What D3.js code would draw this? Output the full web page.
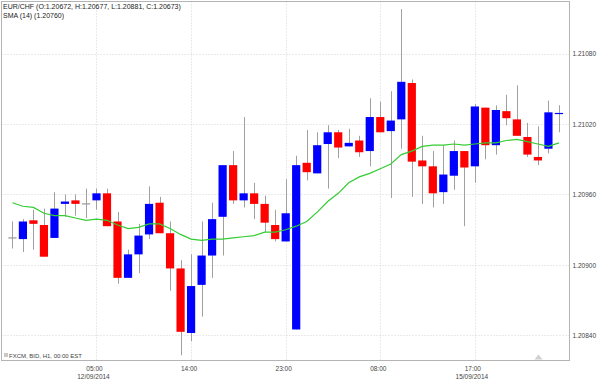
<!DOCTYPE html>
<html>
<head>
<meta charset="utf-8">
<script src="https://cdn.jsdelivr.net/npm/d3@7"></script>
<style>
  body { margin: 0; background: #fff; }
  svg { display: block; font-family: "Liberation Sans", Arial, sans-serif; }
</style>
</head>
<body>
<svg width="600" height="380"></svg>
<script>
// hourly bars, EUR/CHF
const times = [
  "21:00", "22:00", "23:00",
  "00:00", "01:00", "02:00", "03:00", "04:00", "05:00", "06:00", "07:00",
  "08:00", "09:00", "10:00", "11:00", "12:00", "13:00", "14:00", "15:00",
  "16:00", "17:00", "18:00", "19:00", "20:00", "21:00", "22:00", "23:00",
  "00:00", "01:00", "02:00", "03:00", "04:00", "05:00", "06:00", "07:00",
  "08:00", "09:00", "10:00", "11:00", "12:00", "13:00", "14:00", "15:00",
  "16:00", "17:00", "18:00", "19:00", "20:00", "21:00", "22:00", "23:00",
  "00:00", "01:00"
];

const open = [
  1.20923, 1.20922, 1.20938, 1.20934, 1.20923, 1.20952, 1.20955, 1.20952, 1.20955, 1.20961,
  1.20937, 1.20889, 1.20909, 1.20926, 1.20953, 1.20927, 1.20897, 1.20842, 1.20883, 1.20908,
  1.20941, 1.20985, 1.20955, 1.20961, 1.20952, 1.20934, 1.20920, 1.20845, 1.20987, 1.20978,
  1.21003, 1.21013, 1.21001, 1.21006, 1.20997, 1.21026, 1.21014, 1.21024, 1.21055, 1.20989,
  1.20984, 1.20962, 1.20976, 1.20997, 1.20984, 1.21034, 1.21002, 1.21031, 1.21024, 1.21009,
  1.20992, 1.20999, 1.21028
];
const high = [
  1.20937, 1.20939, 1.20947, 1.20948, 1.20962, 1.20960, 1.20960, 1.20965, 1.20965, 1.20965,
  1.20945, 1.20913, 1.20935, 1.20967, 1.20958, 1.20937, 1.20904, 1.20909, 1.20937, 1.20953,
  1.20985, 1.20997, 1.21026, 1.20970, 1.20959, 1.20947, 1.20973, 1.20993, 1.21015, 1.21013,
  1.21019, 1.21015, 1.21016, 1.21010, 1.21042, 1.21039, 1.21048, 1.21118, 1.21058, 1.21010,
  1.20997, 1.21002, 1.21006, 1.20997, 1.21037, 1.21034, 1.21036, 1.21045, 1.21053, 1.21021,
  1.21018, 1.21040, 1.21036
];
const low = [
  1.20914, 1.20911, 1.20913, 1.20907, 1.20923, 1.20941, 1.20942, 1.20940, 1.20947, 1.20933,
  1.20884, 1.20889, 1.20893, 1.20922, 1.20927, 1.20878, 1.20823, 1.20835, 1.20856, 1.20889,
  1.20908, 1.20952, 1.20949, 1.20939, 1.20928, 1.20920, 1.20920, 1.20845, 1.20972, 1.20978,
  1.20965, 1.20991, 1.21001, 1.20992, 1.20984, 1.21013, 1.20957, 1.20999, 1.20958, 1.20952,
  1.20949, 1.20952, 1.20964, 1.20933, 1.20970, 1.20990, 1.20994, 1.21019, 1.21010, 1.20992,
  1.20985, 1.20995, 1.21013
];
const close = [
  1.20923, 1.20937, 1.20935, 1.20907, 1.20948, 1.20954, 1.20952, 1.20952, 1.20961, 1.20933,
  1.20889, 1.20909, 1.20925, 1.20952, 1.20927, 1.20897, 1.20843, 1.20882, 1.20908, 1.20939,
  1.20985, 1.20955, 1.20961, 1.20952, 1.20936, 1.20922, 1.20944, 1.20985, 1.20979, 1.21002,
  1.21013, 1.21000, 1.21004, 1.20996, 1.21026, 1.21013, 1.21023, 1.21056, 1.20988, 1.20984,
  1.20961, 1.20977, 1.20997, 1.20983, 1.21035, 1.21002, 1.21032, 1.21025, 1.21010, 1.20994,
  1.20989, 1.21030, 1.21029
];
const sma = [
  1.20953, 1.20950, 1.20949, 1.20944, 1.20942, 1.20942, 1.20940, 1.20938, 1.20939, 1.20938,
  1.20934, 1.20931, 1.20932, 1.20935, 1.20935, 1.20931, 1.20926, 1.20922, 1.20921, 1.20922,
  1.20922, 1.20923, 1.20924, 1.20925, 1.20928, 1.20928, 1.20930, 1.20933, 1.20937, 1.20945,
  1.20954, 1.20961, 1.20970, 1.20975, 1.20978, 1.20982, 1.20986, 1.20994, 1.20997, 1.21001,
  1.21002, 1.21002, 1.21003, 1.21002, 1.21003, 1.21004, 1.21004, 1.21006, 1.21007, 1.21005,
  1.21003, 1.21001, 1.21004
];

const yTicks = [1.2084, 1.209, 1.2096, 1.2102, 1.2108];
const xTicks = [8, 17, 26, 35, 44];
const dateTicks = [8, 44];
const dateLabels = ["12/09/2014", "15/09/2014"];

const headerText = "EUR/CHF (O:1.20672, H:1.20677, L:1.20881, C:1.20673)";
const smaText = "SMA (14) (1.20760)";
const sourceText = "FXCM, BID, H1, 00:00 EST";

const svg = d3.select("svg");
const width = +svg.attr("width");
const height = +svg.attr("height");

const plotLeft = 1.5;
const plotRight = 569.5;
const plotTop = 1.5;
const plotBottom = 360.5;

svg.append("rect").attr("width", width).attr("height", height).attr("fill", "#fff");

const x = d3
  .scaleBand()
  .domain(d3.range(times.length))
  .range([7.15, 564.2])
  .paddingInner(0.22)
  .paddingOuter(0.11);
const bw = x.bandwidth();
const cx = i => x(i) + bw / 2;

const y = d3.scaleLinear().domain([1.20819, 1.21124]).range([360, 2]);

// grid
const grid = svg.append("g").attr("stroke", "#d4d4d4").attr("stroke-dasharray", "1,2");

grid
  .selectAll("line.h")
  .data(yTicks)
  .join("line")
  .attr("class", "h")
  .attr("x1", plotLeft)
  .attr("x2", plotRight)
  .attr("y1", d => Math.round(y(d)) + 0.5)
  .attr("y2", d => Math.round(y(d)) + 0.5);

grid
  .selectAll("line.v")
  .data(xTicks)
  .join("line")
  .attr("class", "v")
  .attr("x1", d => Math.round(cx(d)) + 0.5)
  .attr("x2", d => Math.round(cx(d)) + 0.5)
  .attr("y1", plotTop)
  .attr("y2", plotBottom);

// frame
svg
  .append("rect")
  .attr("x", plotLeft)
  .attr("y", plotTop)
  .attr("width", plotRight - plotLeft)
  .attr("height", plotBottom - plotTop)
  .attr("fill", "none")
  .attr("stroke", "#b4b4b4");

// candles
const bars = d3.range(times.length);
const colorOf = i =>
  close[i] > open[i] ? "#0000ff" : close[i] < open[i] ? "#ff0000" : "#888";

const candles = svg.append("g");

candles
  .selectAll("line.wick")
  .data(bars)
  .join("line")
  .attr("class", "wick")
  .attr("x1", i => Math.round(cx(i)) + 0.5)
  .attr("x2", i => Math.round(cx(i)) + 0.5)
  .attr("y1", i => y(high[i]))
  .attr("y2", i => y(low[i]))
  .attr("stroke", "#a0a0a0");

candles
  .selectAll("rect.body")
  .data(bars)
  .join("rect")
  .attr("class", "body")
  .attr("x", i => x(i))
  .attr("width", bw)
  .attr("y", i => {
    const top = y(Math.max(open[i], close[i]));
    const h = Math.abs(y(open[i]) - y(close[i]));
    return h < 1.2 ? top - 0.6 : top;
  })
  .attr("height", i => Math.max(1.2, Math.abs(y(open[i]) - y(close[i]))))
  .attr("fill", i => (close[i] === open[i] ? "#999" : colorOf(i)));

// SMA (14)
svg
  .append("path")
  .datum(sma)
  .attr("fill", "none")
  .attr("stroke", "#33cc33")
  .attr("stroke-width", 1.2)
  .attr("d", d3.line().x((d, i) => cx(i)).y(d => y(d)));

// right axis
const yAxis = svg
  .append("g")
  .attr("transform", `translate(${plotRight}, 0)`)
  .call(
    d3.axisRight(y)
      .tickValues(yTicks)
      .tickSize(0)
      .tickPadding(3)
      .tickFormat(d3.format(".5f"))
  );
yAxis.select(".domain").remove();
yAxis.selectAll("text").attr("font-size", 6.5).attr("fill", "#444").attr("font-family", null);

// bottom axis
const xAxis = svg
  .append("g")
  .attr("transform", `translate(0, ${plotBottom})`)
  .call(
    d3.axisBottom(x)
      .tickValues(xTicks)
      .tickSize(0)
      .tickPadding(5.5)
      .tickFormat(i => times[i])
  );
xAxis.select(".domain").remove();
xAxis.selectAll("text").attr("font-size", 6.5).attr("fill", "#444").attr("font-family", null).attr("dx", -2);

svg
  .append("g")
  .selectAll("text")
  .data(dateTicks)
  .join("text")
  .attr("x", d => cx(d) - 3)
  .attr("y", 379)
  .attr("text-anchor", "middle")
  .attr("font-size", 6.5)
  .attr("fill", "#444")
  .text((d, i) => dateLabels[i]);

// header
svg
  .append("text")
  .attr("x", 3)
  .attr("y", 8.5)
  .attr("font-size", 7)
  .attr("fill", "#222")
  .text(headerText);
svg
  .append("text")
  .attr("x", 3)
  .attr("y", 18)
  .attr("font-size", 7)
  .attr("fill", "#222")
  .text(smaText);

// source note with tiny lock icon
svg
  .append("rect")
  .attr("x", 4)
  .attr("y", 353)
  .attr("width", 4)
  .attr("height", 4)
  .attr("fill", "#c8c8c8");
svg
  .append("text")
  .attr("x", 9)
  .attr("y", 357.5)
  .attr("font-size", 6)
  .attr("fill", "#444")
  .text(sourceText);

// scroll marker
svg
  .append("path")
  .attr("d", "M534.5,359.5 L542.5,359.5 L538.5,354.5 Z")
  .attr("fill", "#d0d0d0");
</script>
</body>
</html>
